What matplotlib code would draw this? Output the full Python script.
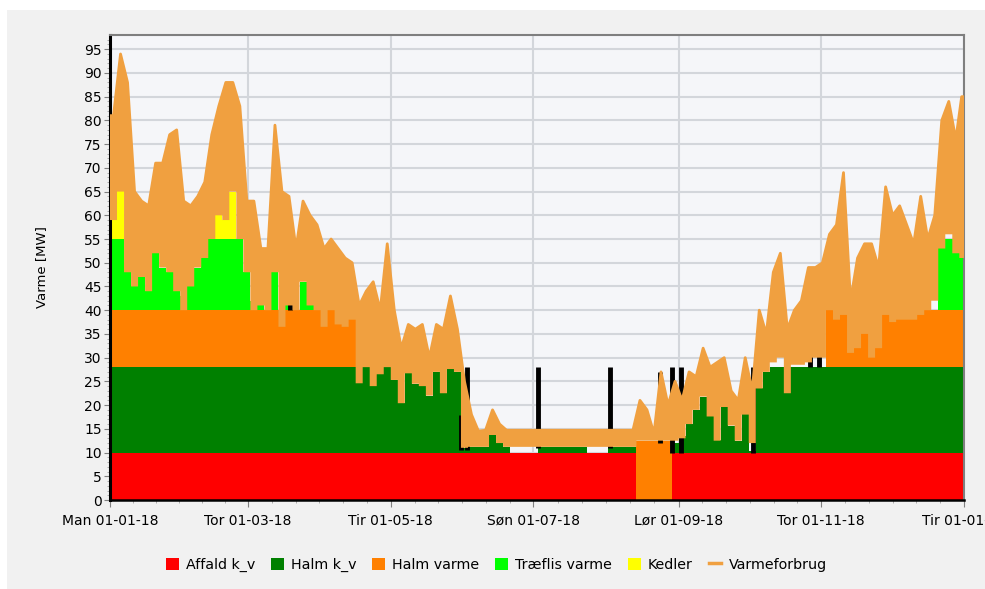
import numpy as np
import matplotlib
matplotlib.use('Agg')
import matplotlib.pyplot as plt
from matplotlib.patches import Patch, Rectangle
from matplotlib.lines import Line2D

plt.rcParams['font.family'] = ['DejaVu Sans']

# 3-day bins over 2018 (bin i covers day 3*i .. 3*i+3)
bin_days = 3
n_bins = 122

# Varmeforbrug, upper and lower envelope per bin [MW]
varme_hi = [81, 94, 88, 65, 63, 62, 71, 71, 77, 78, 63, 62, 64, 67, 77, 83, 88, 88, 83, 63,
            63, 53, 53, 79, 65, 64, 53, 63, 60, 58, 53, 55, 53, 51, 50, 41, 44, 46, 40, 54,
            40, 32, 37, 36, 37, 30, 37, 36, 43, 36,
            25, 18, 14.5, 14.7, 19, 16] + [14.7] * 19 + \
           [21, 19, 14, 27, 20, 25,
            21, 27, 26, 32, 28, 29, 30, 23, 21, 30, 23, 40, 35, 48, 52, 36, 40, 42, 49, 49, 50,
            56, 58, 69, 42, 51, 54, 54, 49, 66, 60, 62, 58, 54, 64, 55, 60, 80, 84, 76, 85]
varme_lo = [59, 65, 48, 45, 47, 44, 52, 49, 48, 44, 40, 45, 49, 51, 55, 60, 59, 65, 55, 48,
            40, 41, 40, 48, 36.5, 41, 40, 46, 41, 40, 36.5, 40, 37, 36.5, 38, 24.6, 28, 24, 26.5, 28,
            25.3, 20.4, 26.7, 24.5, 24, 22, 27, 22.5, 27.6, 27,
            11, 11.2, 11.2, 11.2, 13.7, 12] + [11.2] * 19 + \
           [12.5] * 6 + \
           [13, 16, 19, 21.8, 17.6, 12.5, 19.6, 15.7, 12.5, 18, 12, 23.5, 27, 29, 30, 22.5, 28.5,
            28.5, 29, 30, 30,
            40, 38, 39, 31, 32, 35, 30, 32, 39, 37.5, 38, 38, 38, 39, 40, 42, 53, 56, 52, 51]

# production layers per bin [MW]
affald = [10] * 75 + [0] * 5 + [10] * 42
halm_kv = [18] * 40 + [15.3, 10.4, 16.7, 14.5, 14, 12, 17, 12.5, 17.6, 17] + \
          [1.0] + [1.2] * 3 + [3.7, 2.0, 1.2] + [0] * 4 + [1.2] * 7 + [0] * 3 + [1.2] * 4 + \
          [0] * 5 + [2] + \
          [3.5, 6, 9, 11.8, 10, 2.7, 9.6, 5.7, 2.5, 9.6, 0.3, 13.5, 17] + [18] * 28
halm_varme = [12] * 35 + [0] * 40 + [12.5] * 5 + [0] * 22 + [12] * 20
traeflis = [15, 15, 8, 5, 7, 4, 12, 9, 8, 8, 3, 5, 9, 11, 15, 15, 15, 15, 15, 8] + \
           [2, 4, 0, 9, 0, 3, 0, 6, 4, 0, 0, 0, 0, 0, 0] + [0] * 81 + [3, 0] + [15] * 4
kedler = [4, 12, 2] + [0] * 12 + [5, 4, 10] + [0] * 100 + [5] + [0] * 3

# black spikes (day, bottom, top)
black_day = [77, 91, 150, 152.5, 183, 213.5, 235, 240, 244, 275, 299, 303]
black_lo = [40, 49, 10.5, 10.5, 11, 11, 12, 10, 10, 10, 28, 28]
black_hi = [45, 53, 18, 28, 28, 28, 27, 28, 28, 28, 36, 36]

tick_days = [0, 59, 120, 181, 243, 304, 365]
tick_labels = ['Man 01-01-18', 'Tor 01-03-18', 'Tir 01-05-18', 'Søn 01-07-18',
               'Lør 01-09-18', 'Tor 01-11-18', 'Tir 01-01-19']

names = ['Affald k_v', 'Halm k_v', 'Halm varme', 'Træflis varme', 'Kedler']
colors = ['#ff0000', '#008000', '#ff8000', '#00ff00', '#ffff00']
line_color = '#f0a040'


def ext(v):
    # repeat last value so step='post' reaches year end
    return np.append(np.asarray(v, dtype=float), v[-1])


edges = np.minimum(np.arange(n_bins + 1) * bin_days, 365)
centers = (edges[:-1] + edges[1:]) / 2

fig = plt.figure(figsize=(9.85, 5.89), dpi=100, facecolor='white')
fig.patches.append(Rectangle((7 / 985, 0), 1, 1 - 10 / 589, transform=fig.transFigure,
                             facecolor='#f1f1f1', edgecolor='none', zorder=-10))
ax = fig.add_axes([110 / 985, 1 - 500 / 589, (964 - 110) / 985, (500 - 35) / 589])
ax.set_facecolor('#f5f6f9')

layers = [affald, halm_kv, halm_varme, traeflis, kedler]
bottom = np.zeros(n_bins + 1)
for vals, c in zip(layers, colors):
    top = bottom + ext(vals)
    ax.fill_between(edges, bottom, top, step='post', color=c, linewidth=0, zorder=2)
    bottom = top

ax.vlines(black_day, black_lo, black_hi, color='black', linewidth=3.5, zorder=3)

# demand band: jagged upper envelope through bin centres, stepped lower envelope
hi = np.asarray(varme_hi, dtype=float)
lo = np.asarray(varme_lo, dtype=float)
xu = np.concatenate([[0], centers, [365]])
yu = np.concatenate([[hi[0]], hi, [hi[-1]]])
xl = np.repeat(edges, 2)[1:-1]
yl = np.repeat(lo, 2)
ax.fill(np.concatenate([xu, xl[::-1]]), np.concatenate([yu, yl[::-1]]),
        color=line_color, linewidth=0, zorder=4)
ax.plot(xu, yu, color=line_color, linewidth=2, zorder=4)

ax.set_xlim(0, 365)
ax.set_ylim(0, 98)
ax.set_xticks(tick_days)
ax.set_xticklabels(tick_labels, fontsize=10)
minor = []
for a, b in zip(tick_days[:-1], tick_days[1:]):
    minor += list(np.linspace(a, b, 7)[1:-1])
ax.set_xticks(minor, minor=True)
ax.set_yticks(np.arange(0, 96, 5))
ax.set_yticks(np.arange(0, 98, 1), minor=True)
ax.tick_params(axis='y', labelsize=10, length=4, color='#808080', pad=2)
ax.tick_params(axis='x', length=5, color='#808080', pad=5)
ax.tick_params(which='minor', length=2, color='#a0a0a0')
ax.grid(True, which='major', color='#d3d6db', linewidth=1.5, zorder=0)
ax.set_axisbelow(True)

ax.spines['left'].set_linewidth(2.2)
ax.spines['left'].set_color('black')
ax.spines['bottom'].set_linewidth(1.8)
ax.spines['bottom'].set_color('black')
for s in ['top', 'right']:
    ax.spines[s].set_color('#7f7f7f')
    ax.spines[s].set_linewidth(1.5)

ax.set_ylabel('Varme [MW]', fontsize=9.5, labelpad=26)

handles = [Patch(facecolor=c, edgecolor='none') for c in colors]
handles.append(Line2D([0], [0], color=line_color, linewidth=2.5))
fig.legend(handles, names + ['Varmeforbrug'], loc='center', bbox_to_anchor=(0.504, 0.041),
           ncol=6, frameon=False, fontsize=10.3, handlelength=0.9, handleheight=1.0,
           handletextpad=0.5, columnspacing=1.1)

fig.savefig('out.png', dpi=100)
